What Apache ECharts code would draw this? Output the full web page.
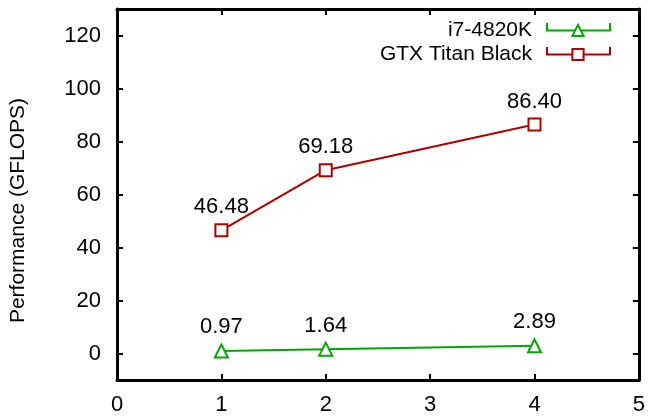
<!DOCTYPE html>
<html><head><meta charset="utf-8">
<script src="https://cdn.jsdelivr.net/npm/echarts@6/dist/echarts.min.js"></script>
<style>html,body{margin:0;padding:0;background:#fff}#c{width:648px;height:416px}</style>
</head><body><div id="c"></div>
<script>
const xValues = [1, 2, 4];
const cpuName = 'i7-4820K';
const gpuName = 'GTX Titan Black';
const cpuValues = [0.97, 1.64, 2.89];
const gpuValues = [46.48, 69.18, 86.40];
const yTicks = [0, 20, 40, 60, 80, 100, 120];
const yTitle = 'Performance (GFLOPS)';

const FONT = 'Liberation Sans';
const FS = 21;
const NFS = 22;
const GREEN = '#00a800';
const RED = '#b00000';
const chart = echarts.init(document.getElementById('c'));
function axisLine() { return {show: true, onZero: false, lineStyle: {color: '#000', width: 3}}; }
function pairs(vals) { return xValues.map((x, i) => [x, vals[i]]); }
function yAxisDef(pos, showLabel) {
  return {
    type: 'value', min: -10, max: 130, position: pos,
    axisLine: axisLine(),
    splitLine: {show: false},
    axisTick: {show: true, inside: true, length: 6, customValues: yTicks, lineStyle: {color: '#000', width: 2}},
    axisLabel: {show: showLabel, customValues: yTicks, color: '#000', fontSize: NFS, fontFamily: FONT, margin: 16}
  };
}
function capLines(y, color) {
  return [547, 610].map(x => ({
    type: 'line', shape: {x1: x, y1: y - 4, x2: x, y2: y + 4},
    style: {stroke: color, lineWidth: 2}, silent: true
  }));
}
chart.setOption({
  animation: false,
  textStyle: {fontFamily: FONT},
  grid: {left: 116, right: 8, top: 9, bottom: 34},
  xAxis: [
    {type: 'value', min: 0, max: 5, interval: 1, position: 'bottom', axisLine: axisLine(), splitLine: {show: false},
     axisTick: {show: true, inside: true, length: 6, lineStyle: {color: '#000', width: 2}},
     axisLabel: {color: '#000', fontSize: NFS, fontFamily: FONT, margin: 14}},
    {type: 'value', min: 0, max: 5, interval: 1, position: 'top', axisLine: axisLine(), splitLine: {show: false},
     axisTick: {show: true, inside: true, length: 6, lineStyle: {color: '#000', width: 2}},
     axisLabel: {show: false}}
  ],
  yAxis: [
    Object.assign(yAxisDef('left', true), {
      name: yTitle, nameLocation: 'middle', nameGap: 88, nameRotate: 90,
      nameTextStyle: {color: '#000', fontSize: FS, fontFamily: FONT, padding: [0, 32, 0, 0]}}),
    yAxisDef('right', false)
  ],
  legend: [
    {data: [cpuName], right: 37, top: 20, padding: 0, orient: 'vertical', align: 'right',
     itemWidth: 64, itemHeight: 14,
     textStyle: {fontSize: FS, color: '#000', fontFamily: FONT, padding: [0, 9, 0, 0]}},
    {data: [gpuName], right: 37, top: 44, padding: 0, orient: 'vertical', align: 'right',
     itemWidth: 64, itemHeight: 14,
     textStyle: {fontSize: FS, color: '#000', fontFamily: FONT, padding: [0, 9, 0, 0]}}
  ],
  graphic: capLines(27, GREEN).concat(capLines(51, RED)),
  series: [
    {name: cpuName, type: 'line', data: pairs(cpuValues), symbol: 'emptyTriangle', symbolSize: 13,
     lineStyle: {color: GREEN, width: 2}, itemStyle: {color: GREEN, borderWidth: 2},
     label: {show: true, position: 'top', distance: 5, fontSize: NFS, color: '#000', fontFamily: FONT,
       formatter: p => p.value[1].toFixed(2)}},
    {name: gpuName, type: 'line', data: pairs(gpuValues), symbol: 'emptyRect', symbolSize: 12,
     lineStyle: {color: RED, width: 2}, itemStyle: {color: RED, borderWidth: 2},
     label: {show: true, position: 'top', distance: 5, fontSize: NFS, color: '#000', fontFamily: FONT,
       formatter: p => p.value[1].toFixed(2)}}
  ]
});
</script></body></html>
